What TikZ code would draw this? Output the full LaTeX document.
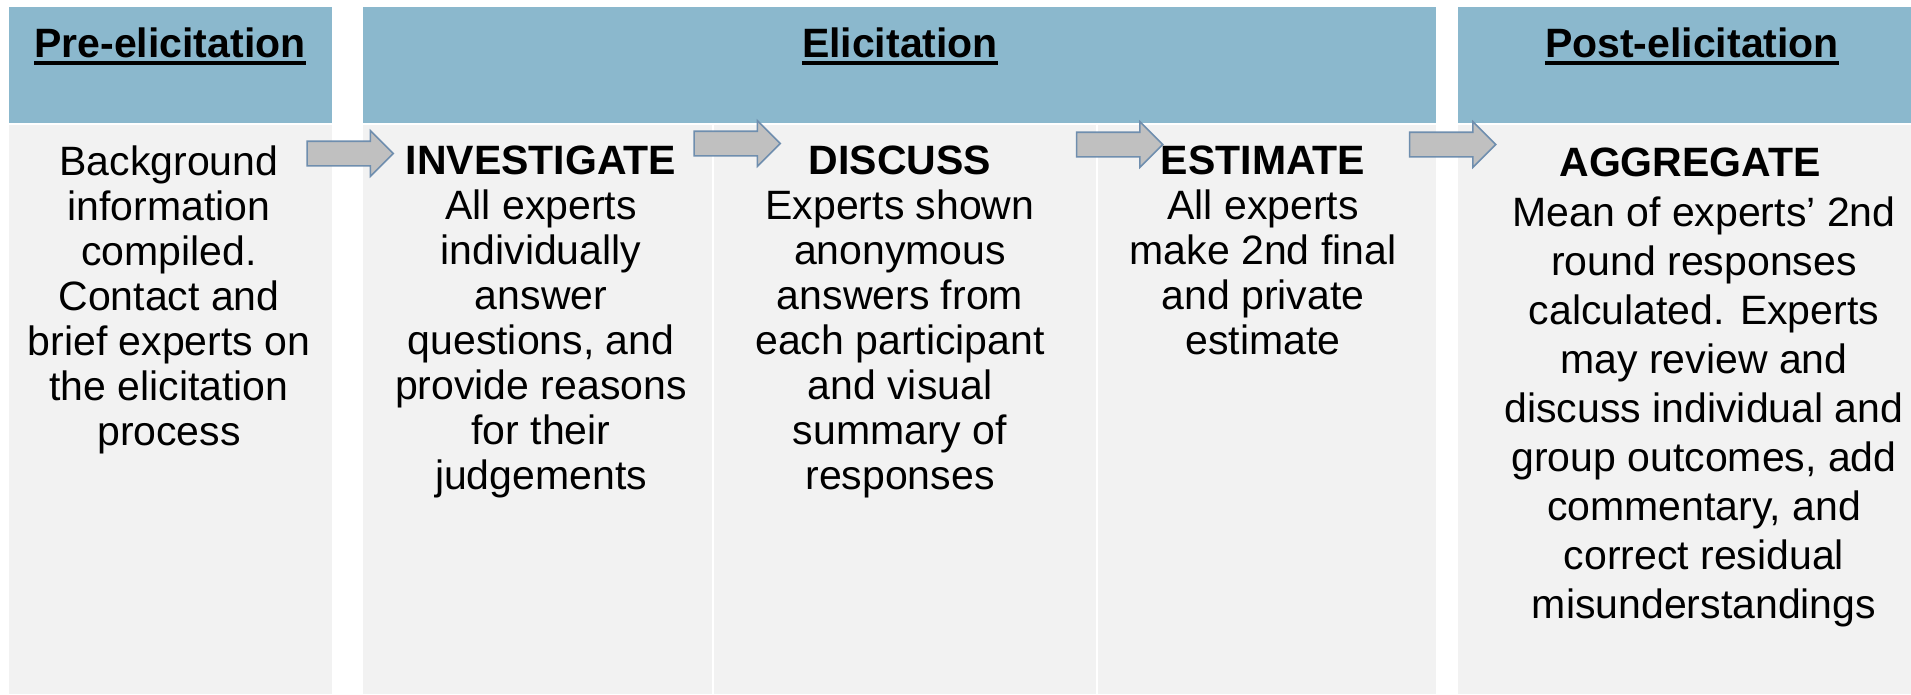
\documentclass[tikz,border=0pt]{standalone}
\usepackage{fontspec}
\setmainfont{Liberation Sans}
\usetikzlibrary{shapes.arrows}
\definecolor{hdr}{HTML}{8BB8CD}
\definecolor{bodyc}{HTML}{F2F2F2}
\definecolor{arrfill}{HTML}{C0C0C0}
\definecolor{arrline}{HTML}{6F8EAE}
\tikzset{
  hdrbox/.style={fill=hdr, draw=none, inner sep=0, anchor=north west},
  bodybox/.style={fill=bodyc, draw=none, inner sep=0, anchor=north west},
  hdrtext/.style={font=\fontsize{41}{45}\selectfont\bfseries, inner sep=0, anchor=base},
  bodytext/.style={font=\fontsize{41}{45}\selectfont, align=center, inner sep=0, anchor=north},
  aggtext/.style={font=\fontsize{41}{49}\selectfont, align=center, inner sep=0, anchor=north},
  blockarr/.style={single arrow, fill=arrfill, draw=arrline, line width=1.6pt,
    inner sep=11.5pt, single arrow head extend=10.5pt, single arrow head indent=0pt,
    minimum height=86pt},
  uline/.style={line width=3.5pt, black}
}
\begin{document}
\begin{tikzpicture}[x=1pt,y=-1pt]
\useasboundingbox (0,0) rectangle (1911,694);
\fill[white] (0,0) rectangle (1911,694);
% header boxes
\node[hdrbox, minimum width=323pt, minimum height=116pt] (hpre) at (9,7) {};
\node[hdrbox, minimum width=1073pt, minimum height=116pt] (heli) at (363,7) {};
\node[hdrbox, minimum width=453pt, minimum height=116pt] (hpost) at (1458,7) {};
% body boxes
\node[bodybox, minimum width=323pt, minimum height=569pt] (bpre) at (9,125) {};
\node[bodybox, minimum width=349pt, minimum height=569pt] (binv) at (363,125) {};
\node[bodybox, minimum width=382pt, minimum height=569pt] (bdis) at (714,125) {};
\node[bodybox, minimum width=338pt, minimum height=569pt] (best) at (1098,125) {};
\node[bodybox, minimum width=453pt, minimum height=569pt] (bagg) at (1458,125) {};
% header texts
\node[hdrtext] (tpre) at (170,57) {Pre-elicitation};
\node[hdrtext] (teli) at (900,57) {Elicitation};
\node[hdrtext] (tpost) at (1692,57) {Post-elicitation};
\draw[uline] ([yshift=-5.5pt]tpre.south west) -- ([yshift=-5.5pt]tpre.south east);
\draw[uline] ([yshift=-5.5pt]teli.south west) -- ([yshift=-5.5pt]teli.south east);
\draw[uline] ([yshift=-5.5pt]tpost.south west) -- ([yshift=-5.5pt]tpost.south east);
% arrows
\node[blockarr] (a1) at (344,153.5) {};
\node[blockarr] (a2) at (731,143.5) {};
\node[blockarr] (a3) at (1113.5,144.5) {};
\node[blockarr] (a4) at (1446.5,144.5) {};
% body texts
\node[bodytext] (cpre) at (169,145.5) {Background\\information\\compiled.\\Contact and\\brief experts on\\the elicitation\\process};
\node[bodytext] (cinv) at (541,145.5) {\textbf{INVESTIGATE}\\All experts\\individually\\answer\\questions, and\\provide reasons\\for their\\judgements};
\node[bodytext] (cdis) at (900,145.5) {\textbf{DISCUSS}\\Experts shown\\anonymous\\answers from\\each participant\\and visual\\summary of\\responses};
\node[bodytext] (cest) at (1263,145.5) {\textbf{ESTIMATE}\\All experts\\make 2nd final\\and private\\estimate};
\node[bodytext] (caggh) at (1690,147.5) {\textbf{AGGREGATE}};
\node[aggtext] (cagg) at (1704,196.5) {Mean of experts’ 2nd\\round responses\\calculated. Experts\\may review and\\discuss individual and\\group outcomes, add\\commentary, and\\correct residual\\misunderstandings};
\end{tikzpicture}
\end{document}
